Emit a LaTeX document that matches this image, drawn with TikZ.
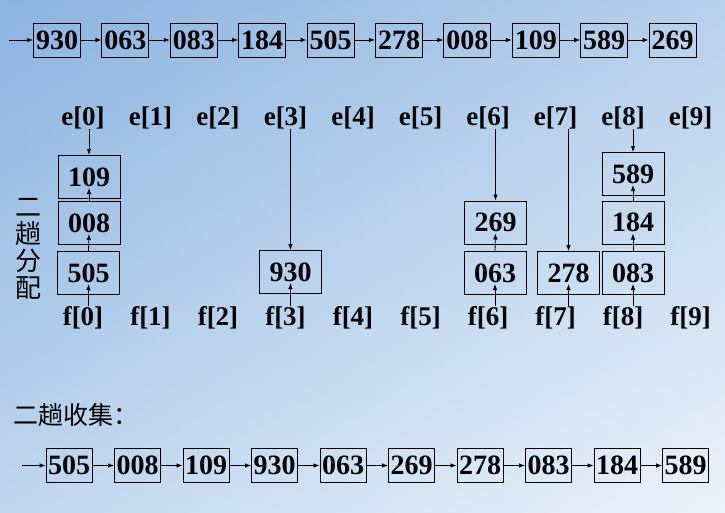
\documentclass[tikz,border=0pt]{standalone}
\usepackage{fontspec}
\setmainfont{Liberation Serif}
\newfontfamily\cjk{Noto Sans CJK SC}
\usepackage{tikz}
\usetikzlibrary{arrows.meta}
\definecolor{skytop}{RGB}{140,180,225}
\definecolor{skybot}{RGB}{236,243,251}

\begin{document}
\begin{tikzpicture}[x=1pt,y=-1pt,>={Latex[length=6pt,width=4.5pt]},
	num/.style={draw,line width=1pt,inner sep=0pt,font=\bfseries\fontsize{28}{30}\selectfont},
	rowbox/.style={num,minimum width=47pt,minimum height=34pt},
	bucket/.style={num,minimum width=62pt,minimum height=43pt},
	lab/.style={inner sep=0pt,font=\bfseries\fontsize{27}{29}\selectfont},
	arr/.style={->,line width=0.8pt}]
			\useasboundingbox (0,0) rectangle (725,512);
			\shade[top color=skytop,bottom color=skybot] (0,0) rectangle (725,512);
			\shade[left color=skytop,right color=skybot,opacity=0.45] (0,0) rectangle (725,512);
			\coordinate (t0) at (9,40);
			\foreach \v [count=\i] in {930,063,083,184,505,278,008,109,589,269}
				\node[rowbox] (t\i) at ({57+68.4*(\i-1)},40) {\v};
			\foreach \i [remember=\i as \j (initially 0)] in {1,...,10}
				\draw[arr] (t\j) -- (t\i);
			\foreach \i in {0,...,9} {
				\node[lab] (e\i) at ({83+67.5*\i},118) {e[\i]};
				\node[lab] (f\i) at ({83+67.5*\i},318) {f[\i]};
			}
			\node[bucket] (m109) at (89,177) {109};
			\node[bucket] (m008) at (89,223) {008};
			\node[bucket] (m505) at (88.5,273) {505};
			\node[bucket] (m930) at (290.5,272) {930};
			\node[bucket] (m269) at (495.5,222.5) {269};
			\node[bucket] (m063) at (495,273) {063};
			\node[bucket] (m278) at (568.5,273) {278};
			\node[bucket] (m083) at (633,273) {083};
			\node[bucket] (m184) at (633,222.5) {184};
			\node[bucket] (m589) at (633,174) {589};
			\draw[arr] (e0.south -| m109.north) -- (m109.north);
			\draw[arr] (e3.south -| m930.north) -- (m930.north);
			\draw[arr] (e6.south -| m269.north) -- (m269.north);
			\draw[arr] (e7.south -| m278.north) -- (m278.north);
			\draw[arr] (e8.south -| m589.north) -- (m589.north);
			\draw[arr] (f0.north -| m505.south) -- ([yshift=11pt]m505.south);
			\draw[arr] (f3.north -| m930.south) -- ([yshift=11pt]m930.south);
			\draw[arr] (f6.north -| m063.south) -- ([yshift=11pt]m063.south);
			\draw[arr] (f7.north -| m278.south) -- ([yshift=11pt]m278.south);
			\draw[arr] (f8.north -| m083.south) -- ([yshift=11pt]m083.south);
			\draw[arr] (m505.north) -- ([yshift=11pt]m008.south);
			\draw[arr] (m008.north) -- ([yshift=11pt]m109.south);
			\draw[arr] (m063.north) -- ([yshift=11pt]m269.south);
			\draw[arr] (m083.north) -- ([yshift=11pt]m184.south);
			\draw[arr] (m184.north) -- ([yshift=11pt]m589.south);
			\node[font=\cjk\fontsize{26}{27}\selectfont,align=center,inner sep=0pt] (fenpei) at (29,249) {二\\趟\\分\\配};
			\node[font=\cjk\fontsize{25}{27}\selectfont,anchor=west,inner sep=0pt] (shouji) at (13,415) {二趟收集：};
			\coordinate (b0) at (22,465.5);
			\foreach \v [count=\i] in {505,008,109,930,063,269,278,083,184,589}
				\node[rowbox,minimum width=46pt] (b\i) at ({69+68.5*(\i-1)},465.5) {\v};
			\foreach \i [remember=\i as \j (initially 0)] in {1,...,10}
				\draw[arr] (b\j) -- (b\i);
		\end{tikzpicture}
\end{document}
